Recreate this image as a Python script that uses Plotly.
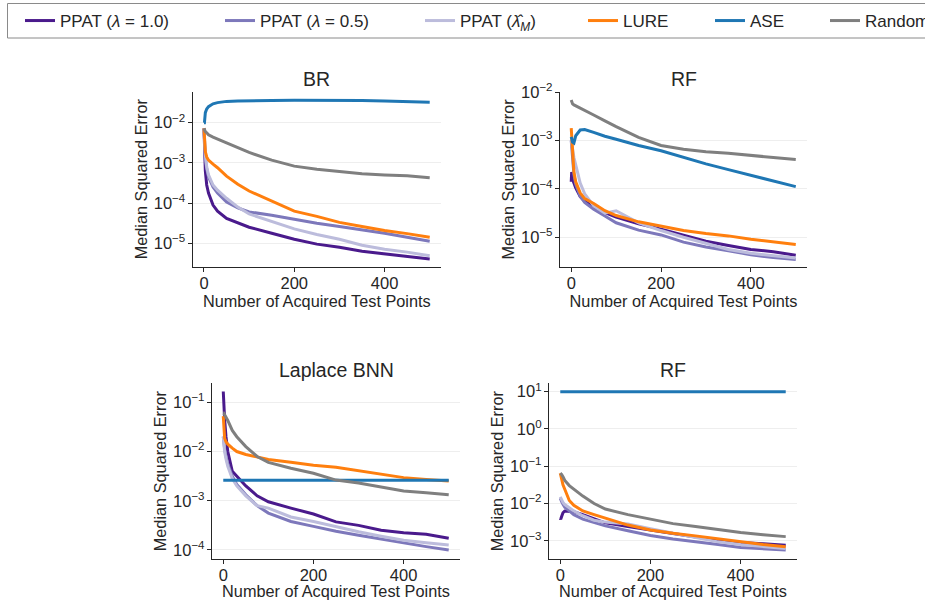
import plotly.graph_objects as go

# ---------------- data ----------------
X = [0, 1, 3, 6, 10, 20, 30, 50, 75, 100, 150, 200, 250, 300, 350, 400, 450, 500]

SERIES = ["PPAT (λ = 1.0)", "PPAT (λ = 0.5)", "PPAT (λ̂_M)", "LURE", "ASE", "Random"]
LEGEND_LABELS = ["PPAT (<i>λ</i> = 1.0)", "PPAT (<i>λ</i> = 0.5)",
                 "PPAT (<i>λ̂</i><sub><i>M</i></sub>)", "LURE", "ASE", "Random"]
COLORS = ["#4a1a8c", "#7d78bb", "#bcbcdc", "#ff7f0e", "#1f77b4", "#7f7f7f"]

PANEL_TITLES = ["BR", "RF", "Laplace BNN", "RF"]
X_LABEL = "Number of Acquired Test Points"
Y_LABEL = "Median Squared Error"
X_TICKS = [0, 200, 400]

# Panel 1: BR
BR_PPAT1 = [7.24e-3, 2.00e-3, 6.31e-4, 2.82e-4, 1.78e-4, 8.91e-5, 6.31e-5, 4.17e-5, 3.16e-5, 2.51e-5, 1.78e-5, 1.26e-5, 9.55e-6, 7.94e-6, 6.31e-6, 5.50e-6, 4.79e-6, 4.07e-6]
BR_PPAT05 = [7.24e-3, 2.51e-3, 1.26e-3, 7.08e-4, 4.47e-4, 2.51e-4, 1.78e-4, 1.07e-4, 7.59e-5, 6.03e-5, 5.01e-5, 3.98e-5, 3.16e-5, 2.63e-5, 2.19e-5, 1.78e-5, 1.41e-5, 1.12e-5]
BR_PPATM = [7.24e-3, 3.16e-3, 1.58e-3, 7.94e-4, 5.01e-4, 2.82e-4, 2.09e-4, 1.32e-4, 7.94e-5, 5.37e-5, 3.55e-5, 2.29e-5, 1.66e-5, 1.26e-5, 8.91e-6, 7.08e-6, 6.03e-6, 4.90e-6]
BR_LURE = [7.24e-3, 3.16e-3, 1.91e-3, 1.41e-3, 1.17e-3, 9.33e-4, 7.59e-4, 4.68e-4, 2.95e-4, 2.00e-4, 1.12e-4, 6.31e-5, 4.68e-5, 3.31e-5, 2.63e-5, 2.09e-5, 1.74e-5, 1.41e-5]
BR_ASE = [0.0100, 0.0100, 0.0178, 0.0219, 0.0251, 0.0295, 0.0316, 0.0339, 0.0347, 0.0355, 0.0359, 0.0363, 0.0363, 0.0359, 0.0355, 0.0347, 0.0339, 0.0324]
BR_RANDOM = [7.24e-3, 6.31e-3, 6.03e-3, 5.62e-3, 5.01e-3, 4.37e-3, 3.98e-3, 3.16e-3, 2.40e-3, 1.82e-3, 1.17e-3, 8.32e-4, 6.92e-4, 6.03e-4, 5.37e-4, 5.01e-4, 4.79e-4, 4.27e-4]

# Panel 2: RF (top)
RF1_PPAT1 = [1.41e-4, 2.24e-4, 1.58e-4, 1.26e-4, 1.05e-4, 6.92e-5, 5.62e-5, 4.17e-5, 3.24e-5, 2.63e-5, 1.91e-5, 1.48e-5, 1.12e-5, 8.32e-6, 6.76e-6, 5.62e-6, 5.01e-6, 4.27e-6]
RF1_PPAT05 = [1.00e-3, 7.94e-4, 3.98e-4, 2.00e-4, 1.26e-4, 7.08e-5, 5.25e-5, 3.80e-5, 2.75e-5, 2.00e-5, 1.41e-5, 1.12e-5, 7.94e-6, 6.31e-6, 5.25e-6, 4.37e-6, 3.80e-6, 3.47e-6]
RF1_PPATM = [1.02e-3, 8.91e-4, 6.31e-4, 4.47e-4, 3.16e-4, 1.32e-4, 7.94e-5, 4.47e-5, 3.16e-5, 3.55e-5, 2.00e-5, 1.38e-5, 1.00e-5, 7.59e-6, 5.62e-6, 4.68e-6, 4.17e-6, 3.72e-6]
RF1_LURE = [1.82e-3, 1.12e-3, 5.01e-4, 2.24e-4, 1.41e-4, 8.32e-5, 6.31e-5, 5.01e-5, 3.55e-5, 2.82e-5, 2.09e-5, 1.70e-5, 1.38e-5, 1.20e-5, 1.07e-5, 9.12e-6, 7.94e-6, 7.08e-6]
RF1_ASE = [1.20e-3, 1.12e-3, 9.33e-4, 8.91e-4, 1.26e-3, 1.66e-3, 1.70e-3, 1.48e-3, 1.23e-3, 1.07e-3, 7.94e-4, 6.17e-4, 4.47e-4, 3.31e-4, 2.51e-4, 1.91e-4, 1.45e-4, 1.12e-4]
RF1_RANDOM = [6.92e-3, 6.31e-3, 5.75e-3, 5.50e-3, 5.25e-3, 4.68e-3, 4.27e-3, 3.39e-3, 2.57e-3, 1.95e-3, 1.17e-3, 7.94e-4, 6.61e-4, 5.89e-4, 5.50e-4, 4.90e-4, 4.47e-4, 4.07e-4]

# Panel 3: Laplace BNN
LB_PPAT1 = [0.166, 0.0794, 0.0447, 0.0200, 0.0100, 3.98e-3, 3.16e-3, 2.00e-3, 1.26e-3, 9.55e-4, 7.08e-4, 5.37e-4, 3.72e-4, 3.16e-4, 2.51e-4, 2.24e-4, 2.09e-4, 1.74e-4]
LB_PPAT05 = [0.0200, 0.0158, 0.0112, 7.94e-3, 5.62e-3, 3.16e-3, 2.14e-3, 1.32e-3, 7.94e-4, 5.62e-4, 3.80e-4, 3.02e-4, 2.40e-4, 2.00e-4, 1.66e-4, 1.38e-4, 1.17e-4, 1.00e-4]
LB_PPATM = [0.0200, 0.0141, 0.0100, 7.08e-3, 5.01e-3, 2.82e-3, 2.00e-3, 1.26e-3, 7.94e-4, 7.08e-4, 4.68e-4, 3.80e-4, 2.95e-4, 2.34e-4, 1.91e-4, 1.58e-4, 1.41e-4, 1.26e-4]
LB_LURE = [0.0525, 0.0251, 0.0186, 0.0158, 0.0141, 0.0117, 0.0100, 8.71e-3, 7.76e-3, 6.92e-3, 6.03e-3, 5.25e-3, 4.79e-3, 4.07e-3, 3.47e-3, 2.95e-3, 2.69e-3, 2.51e-3]
LB_ASE = [2.6e-3, 2.6e-3, 2.6e-3, 2.6e-3, 2.6e-3, 2.6e-3, 2.6e-3, 2.6e-3, 2.6e-3, 2.6e-3, 2.6e-3, 2.6e-3, 2.6e-3, 2.6e-3, 2.6e-3, 2.6e-3, 2.6e-3, 2.6e-3]
LB_RANDOM = [0.0603, 0.0603, 0.0562, 0.0501, 0.0427, 0.0269, 0.0200, 0.0126, 7.94e-3, 6.03e-3, 4.57e-3, 3.63e-3, 2.63e-3, 2.29e-3, 1.91e-3, 1.58e-3, 1.45e-3, 1.32e-3]

# Panel 4: RF (bottom)
RF2_PPAT1 = [3.98e-3, 3.80e-3, 4.47e-3, 5.62e-3, 6.31e-3, 6.31e-3, 6.03e-3, 5.01e-3, 3.80e-3, 3.02e-3, 2.40e-3, 1.91e-3, 1.58e-3, 1.26e-3, 1.05e-3, 8.91e-4, 8.32e-4, 7.59e-4]
RF2_PPAT05 = [0.0138, 0.0126, 0.0112, 9.55e-3, 7.94e-3, 6.31e-3, 5.01e-3, 3.80e-3, 3.02e-3, 2.51e-3, 1.86e-3, 1.38e-3, 1.12e-3, 9.55e-4, 7.94e-4, 6.61e-4, 6.03e-4, 5.62e-4]
RF2_PPATM = [0.0151, 0.0141, 0.0126, 0.0107, 9.33e-3, 7.59e-3, 6.31e-3, 4.68e-3, 3.55e-3, 3.16e-3, 2.82e-3, 2.09e-3, 1.58e-3, 1.20e-3, 9.33e-4, 7.94e-4, 6.92e-4, 6.17e-4]
RF2_LURE = [0.0646, 0.0562, 0.0447, 0.0316, 0.0240, 0.0120, 8.91e-3, 6.31e-3, 5.01e-3, 3.98e-3, 2.63e-3, 1.95e-3, 1.58e-3, 1.35e-3, 1.12e-3, 9.33e-4, 7.94e-4, 6.92e-4]
RF2_ASE = [10.0, 10.0, 10.0, 10.0, 10.0, 10.0, 10.0, 10.0, 10.0, 10.0, 10.0, 10.0, 10.0, 10.0, 10.0, 10.0, 10.0, 10.0]
RF2_RANDOM = [0.0646, 0.0631, 0.0603, 0.0525, 0.0417, 0.0302, 0.0240, 0.0158, 0.0100, 7.08e-3, 5.01e-3, 3.89e-3, 2.88e-3, 2.40e-3, 1.95e-3, 1.66e-3, 1.45e-3, 1.29e-3]

# y tick values / labels per panel
BR_YTICKS = [1e-5, 1e-4, 1e-3, 1e-2]
BR_YLABELS = ["10<sup>−5</sup>", "10<sup>−4</sup>", "10<sup>−3</sup>", "10<sup>−2</sup>"]
RF1_YTICKS = [1e-5, 1e-4, 1e-3, 1e-2]
RF1_YLABELS = ["10<sup>−5</sup>", "10<sup>−4</sup>", "10<sup>−3</sup>", "10<sup>−2</sup>"]
LB_YTICKS = [1e-4, 1e-3, 1e-2, 1e-1]
LB_YLABELS = ["10<sup>−4</sup>", "10<sup>−3</sup>", "10<sup>−2</sup>", "10<sup>−1</sup>"]
RF2_YTICKS = [1e-3, 1e-2, 1e-1, 1e0, 1e1]
RF2_YLABELS = ["10<sup>−3</sup>", "10<sup>−2</sup>", "10<sup>−1</sup>", "10<sup>0</sup>", "10<sup>1</sup>"]

PANELS = [
    [BR_PPAT1, BR_PPAT05, BR_PPATM, BR_LURE, BR_ASE, BR_RANDOM],
    [RF1_PPAT1, RF1_PPAT05, RF1_PPATM, RF1_LURE, RF1_ASE, RF1_RANDOM],
    [LB_PPAT1, LB_PPAT05, LB_PPATM, LB_LURE, LB_ASE, LB_RANDOM],
    [RF2_PPAT1, RF2_PPAT05, RF2_PPATM, RF2_LURE, RF2_ASE, RF2_RANDOM],
]
YTICKS = [(BR_YTICKS, BR_YLABELS), (RF1_YTICKS, RF1_YLABELS),
          (LB_YTICKS, LB_YLABELS), (RF2_YTICKS, RF2_YLABELS)]

# ---------------- layout geometry (pixels in a 925x600 canvas) ----------------
W, H = 925, 600
BOXES = [(192.7, 441.0, 91.7, 266.7), (560.0, 807.0, 92.0, 266.7),
         (212.0, 460.0, 383.3, 559.0), (549.0, 797.0, 383.3, 559.0)]
Y_RANGES = [(-5.582, -1.229), (-5.608, -1.994), (-4.183, -0.614), (-3.49, 1.225)]
X_RANGE = [-25, 525]

FONT = "Liberation Sans, Arial, sans-serif"
TXT = "#262626"

fig = go.Figure()

legend_names = ["legend", "legend2", "legend3", "legend4", "legend5", "legend6"]

for p, series in enumerate(PANELS):
    xa = "x" if p == 0 else f"x{p+1}"
    ya = "y" if p == 0 else f"y{p+1}"
    for s, vals in enumerate(series):
        fig.add_trace(go.Scatter(
            x=X, y=vals, mode="lines", name=LEGEND_LABELS[s],
            line=dict(color=COLORS[s], width=3),
            xaxis=xa, yaxis=ya, legendgroup=SERIES[s],
            showlegend=(p == 0), legend=legend_names[s],
        ))

layout = dict(
    width=W, height=H, margin=dict(l=0, r=0, t=0, b=0, autoexpand=False),
    paper_bgcolor="white", plot_bgcolor="white",
    font=dict(family=FONT, color=TXT, size=16),
    annotations=[], shapes=[],
)

for p in range(4):
    l, r, t, b = BOXES[p]
    xk = "xaxis" if p == 0 else f"xaxis{p+1}"
    yk = "yaxis" if p == 0 else f"yaxis{p+1}"
    ax_id = "x" if p == 0 else f"x{p+1}"
    ay_id = "y" if p == 0 else f"y{p+1}"
    layout[xk] = dict(
        domain=[l / W, r / W], anchor=ay_id, range=X_RANGE,
        tickvals=X_TICKS, ticks="outside", ticklen=4, tickwidth=1.2, tickcolor=TXT,
        showline=True, linecolor=TXT, linewidth=1.3, showgrid=False, zeroline=False,
        tickfont=dict(size=16.5, color=TXT, family=FONT), ticklabelstandoff=-3,
        title=dict(text=X_LABEL, font=dict(size=16.3, color=TXT, family=FONT), standoff=0),
    )
    tv, tt = YTICKS[p]
    layout[yk] = dict(
        domain=[1 - b / H, 1 - t / H], anchor=ax_id, type="log", range=list(Y_RANGES[p]),
        tickvals=tv, ticktext=tt, ticks="outside", ticklen=4, tickwidth=1.2, tickcolor=TXT,
        showline=True, linecolor=TXT, linewidth=1.3, showgrid=True, gridcolor="#eeeeee",
        gridwidth=1, zeroline=False,
        tickfont=dict(size=16.5, color=TXT, family=FONT), ticklabelstandoff=-1,
        title=dict(text=Y_LABEL, font=dict(size=16.3, color=TXT, family=FONT), standoff=2),
    )
    layout["annotations"].append(dict(
        text=PANEL_TITLES[p], xref="paper", yref="paper",
        x=(l + r) / 2 / W, y=1 - (t - 13) / H, xanchor="center", yanchor="middle",
        showarrow=False, font=dict(size=19.5, color=TXT, family=FONT),
    ))

# legend frame
layout["shapes"].append(dict(
    type="rect", xref="paper", yref="paper",
    x0=7.5 / W, x1=940 / W, y0=1 - 38 / H, y1=1 - 3.5 / H,
    line=dict(color="#8a8a8a", width=1), fillcolor="rgba(0,0,0,0)", layer="above",
))

TEXT_STARTS = [60, 260, 460, 623, 750, 865]
for k, name in enumerate(legend_names):
    layout[name] = dict(
        x=(TEXT_STARTS[k] - 40) / W, y=1 - 21 / H, xanchor="left", yanchor="middle",
        orientation="h", bgcolor="rgba(0,0,0,0)", borderwidth=0,
        font=dict(size=17, color=TXT, family=FONT),
    )

fig.update_layout(**layout)
fig.write_html(
    "out.html",
    config={"displayModeBar": False},
    post_script="document.body.style.margin='0px';document.body.style.overflow='hidden';",
)
